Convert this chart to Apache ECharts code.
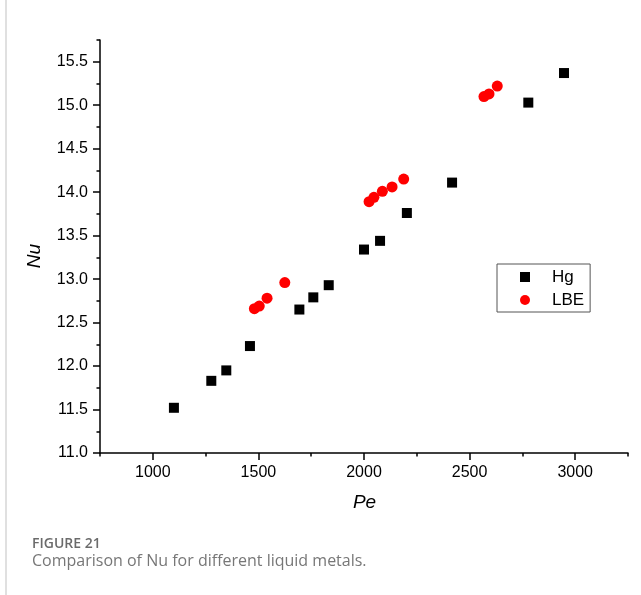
<!DOCTYPE html>
<html>
<head>
<meta charset="utf-8">
<script src="https://cdn.jsdelivr.net/npm/echarts@6/dist/echarts.min.js"></script>
<style>
  html, body { margin: 0; padding: 0; background: #fff; }
  #chart { width: 641px; height: 595px; }
</style>
</head>
<body>
<div id="chart"></div>
<script>
// Nusselt number vs Peclet number for two liquid metals
const hgPe  = [1100, 1277, 1348, 1460, 1694, 1760, 1833, 2000, 2076, 2203, 2417, 2778, 2947];
const hgNu  = [11.52, 11.83, 11.95, 12.23, 12.65, 12.79, 12.93, 13.34, 13.44, 13.76, 14.11, 15.03, 15.37];
const lbePe = [1481, 1504, 1541, 1625, 2024, 2047, 2087, 2133, 2188, 2568, 2592, 2631];
const lbeNu = [12.66, 12.69, 12.78, 12.96, 13.89, 13.94, 14.01, 14.06, 14.15, 15.10, 15.13, 15.22];

const peMajorTicks = [1000, 1500, 2000, 2500, 3000];
const nuMajorTicks = [11.0, 11.5, 12.0, 12.5, 13.0, 13.5, 14.0, 14.5, 15.0, 15.5];

const seriesNames = ['Hg', 'LBE'];
const captionTitle = 'FIGURE 21';
const captionText = 'Comparison of Nu for different liquid metals.';

const FONT = 'Arial, "Liberation Sans", Helvetica, sans-serif';
const pair = (xs, ys) => xs.map((x, i) => [x, ys[i]]);

const axisLine = { show: true, onZero: false, lineStyle: { color: '#000', width: 1.5 } };

const chart = echarts.init(document.getElementById('chart'), null, { renderer: 'canvas' });
chart.setOption({
  animation: false,
  backgroundColor: '#fff',
  grid: { left: 100, right: 13, top: 40, bottom: 142, containLabel: false },
  xAxis: [
    {
      type: 'value', min: 750, max: 3250, interval: 250, position: 'bottom',
      axisLine: axisLine,
      axisTick: { show: true, inside: false, length: 3.5, lineStyle: { color: '#000', width: 1.5 } },
      axisLabel: {
        margin: 12, fontSize: 16, fontFamily: FONT, color: '#000',
        formatter: v => (v % 500 === 0 ? String(v) : '')
      },
      splitLine: { show: false }
    },
    {
      type: 'value', min: 750, max: 3250, position: 'bottom', gridIndex: 0,
      axisLine: { show: false },
      axisTick: { show: true, inside: false, length: 7, customValues: peMajorTicks,
                  lineStyle: { color: '#000', width: 1.5 } },
      axisLabel: { show: false },
      splitLine: { show: false }
    }
  ],
  yAxis: [
    {
      type: 'value', min: 11, max: 15.75, interval: 0.25, position: 'left',
      axisLine: axisLine,
      axisTick: { show: true, inside: false, length: 3.5, lineStyle: { color: '#000', width: 1.5 } },
      axisLabel: {
        margin: 12, fontSize: 16, fontFamily: FONT, color: '#000',
        formatter: v => (Math.abs(v * 2 - Math.round(v * 2)) < 1e-6 ? v.toFixed(1) : '')
      },
      splitLine: { show: false }
    },
    {
      type: 'value', min: 11, max: 15.75, position: 'left', gridIndex: 0,
      axisLine: { show: false },
      axisTick: { show: true, inside: false, length: 7, customValues: nuMajorTicks,
                  lineStyle: { color: '#000', width: 1.5 } },
      axisLabel: { show: false },
      splitLine: { show: false }
    }
  ],
  legend: {
    orient: 'vertical', left: 497, top: 264,
    borderColor: '#555', borderWidth: 1, borderRadius: 0,
    padding: [4, 6, 3, 23],
    itemWidth: 10, itemHeight: 10, itemGap: 5,
    selectedMode: false,
    textStyle: { fontSize: 17, lineHeight: 18, fontFamily: FONT, color: '#000', padding: [0, 0, 0, 17] },
    data: seriesNames
  },
  series: [
    {
      name: seriesNames[0], type: 'scatter', xAxisIndex: 0, yAxisIndex: 0,
      symbol: 'rect', symbolSize: 10,
      itemStyle: { color: '#000', opacity: 1 },
      data: pair(hgPe, hgNu)
    },
    {
      name: seriesNames[1], type: 'scatter', xAxisIndex: 0, yAxisIndex: 0,
      symbol: 'circle', symbolSize: 11,
      itemStyle: { color: '#ff0000', opacity: 1 },
      data: pair(lbePe, lbeNu)
    }
  ],
  graphic: [
    { type: 'line', shape: { x1: 6, y1: 0, x2: 6, y2: 595 }, style: { stroke: '#cfcfcf', lineWidth: 1.3 } },
    { type: 'text', x: 35, y: 256, rotation: Math.PI / 2,
      style: { text: 'Nu', fontSize: 19, fontStyle: 'italic', fontFamily: FONT, fill: '#000',
               align: 'center', verticalAlign: 'middle' } },
    { type: 'text', x: 364.5, y: 503,
      style: { text: 'Pe', fontSize: 19, fontStyle: 'italic', fontFamily: FONT, fill: '#000',
               align: 'center', verticalAlign: 'middle' } },
    { type: 'text', x: 32, y: 544.5,
      style: { text: captionTitle, fontSize: 14, fontWeight: 600, fontFamily: '"Open Sans", sans-serif',
               fill: '#6b6b6b', align: 'left', verticalAlign: 'middle' } },
    { type: 'text', x: 32, y: 561,
      style: { text: captionText, fontSize: 16, fontFamily: '"Open Sans", sans-serif',
               fill: '#777', align: 'left', verticalAlign: 'middle' } }
  ]
});
</script>
</body>
</html>
